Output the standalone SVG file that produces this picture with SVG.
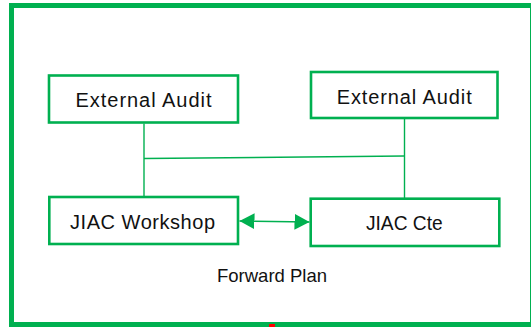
<svg xmlns="http://www.w3.org/2000/svg" width="531" height="327" viewBox="0 0 531 327">
  <defs>
    <style>
      .frame { fill: #ffffff; stroke: #00b050; stroke-width: 5; }
      .box { fill: #ffffff; stroke: #00b050; stroke-width: 2.6; }
      .link { fill: none; stroke: #00b050; stroke-width: 1.4; }
      .label { font-family: "Liberation Sans", Arial, sans-serif; font-size: 20px; fill: #111111; text-anchor: middle; }
      .caption { font-family: "Liberation Sans", Arial, sans-serif; font-size: 18.5px; fill: #111111; text-anchor: middle; }
    </style>
    <marker id="arrowhead" markerUnits="userSpaceOnUse" markerWidth="15" markerHeight="16" viewBox="0 0 15 16" refX="15" refY="8" orient="auto-start-reverse">
      <path d="M0,0 L15,8 L0,16 Z" fill="#00b050"/>
    </marker>
  </defs>

  <!-- outer border -->
  <rect class="frame" x="11.5" y="5.5" width="521" height="319"/>

  <!-- connectors -->
  <g id="connectors">
    <line class="link" x1="144" y1="123.5" x2="144" y2="197"/>
    <line class="link" x1="404.5" y1="118" x2="404.5" y2="198.5"/>
    <line class="link" x1="144" y1="158.5" x2="404.5" y2="156"/>
    <line class="link" x1="239.5" y1="221" x2="309.5" y2="222" marker-start="url(#arrowhead)" marker-end="url(#arrowhead)"/>
  </g>

  <g id="external-audit-1">
    <rect class="box" x="49" y="75.5" width="189" height="47"/>
    <text class="label" x="143.5" y="106.5" textLength="136" lengthAdjust="spacing">External Audit</text>
  </g>

  <g id="external-audit-2">
    <rect class="box" x="311" y="72" width="186.5" height="46"/>
    <text class="label" x="404.2" y="104.3" textLength="135" lengthAdjust="spacing">External Audit</text>
  </g>

  <g id="jiac-workshop">
    <rect class="box" x="49.3" y="197" width="188.7" height="47"/>
    <text class="label" x="142.5" y="229" textLength="145" lengthAdjust="spacing">JIAC Workshop</text>
  </g>

  <g id="jiac-cte">
    <rect class="box" x="310.7" y="198.7" width="188.6" height="47.3"/>
    <text class="label" x="404.3" y="230" textLength="76.7" lengthAdjust="spacingAndGlyphs">JIAC Cte</text>
  </g>

  <text class="caption" x="272" y="282.3">Forward Plan</text>

  <!-- small red tick on the bottom border -->
  <rect x="269" y="324" width="6" height="3" fill="#ff0000"/>
</svg>
